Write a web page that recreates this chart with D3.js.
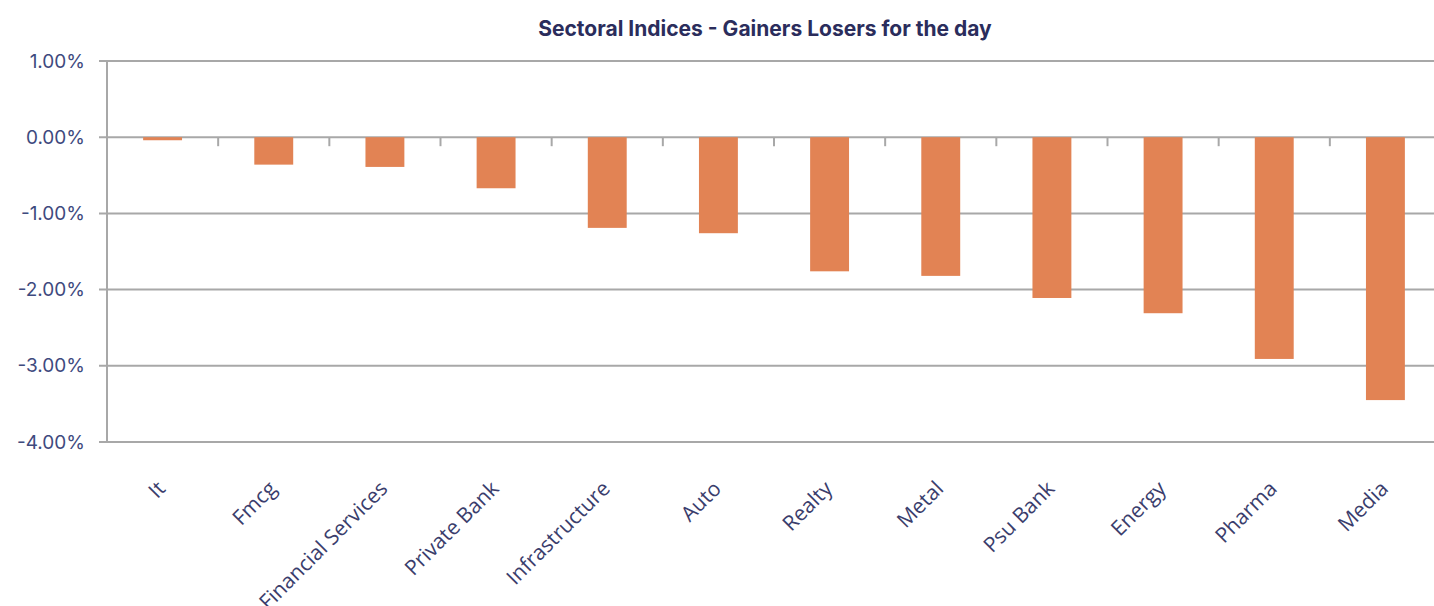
<!DOCTYPE html>
<html>
  <head>
    <meta charset="utf-8" />
    <title>Sectoral Indices</title>
    <script src="https://d3js.org/d3.v7.min.js"></script>
    <style>
      body { margin: 0; background: #ffffff; }
    </style>
  </head>
  <body>
    <svg id="chart" width="1434" height="606"></svg>
  </body>
  <script>
    // sectors and their day change (%)
    var sectors = ["It", "Fmcg", "Financial Services", "Private Bank", "Infrastructure", "Auto",
                   "Realty", "Metal", "Psu Bank", "Energy", "Pharma", "Media"];
    var changes = [-0.04, -0.36, -0.39, -0.67, -1.19, -1.26, -1.76, -1.82, -2.11, -2.31, -2.91, -3.45];
    var yTicks = [1, 0, -1, -2, -3, -4];
    var chartTitle = "Sectoral Indices - Gainers Losers for the day";

    var drawChart = function(){
      var svg = d3.select("#chart");
      var plotLeft = 107, plotRight = 1441, plotTop = 61, plotBottom = 442;

      var x = d3.scaleBand()
        .domain(sectors)
        .range([plotLeft, plotRight])
        .paddingInner(0.65)
        .paddingOuter(0.325);

      // band boundaries for tick marks
      var step = (plotRight - plotLeft) / sectors.length;

      var y = d3.scaleLinear()
        .domain([-4, 1])
        .range([plotBottom, plotTop]);

      // plain hyphen minus, like the original
      var pct = d3.formatLocale({decimal: ".", thousands: ",", grouping: [3], currency: ["", ""], minus: "-"})
        .format(".2f");

      // gridlines
      svg.append("g")
        .selectAll("line")
        .data(yTicks)
        .enter().append("line")
        .attr("x1", plotLeft - 8)
        .attr("x2", plotRight)
        .attr("y1", function(d){ return y(d); })
        .attr("y2", function(d){ return y(d); })
        .attr("stroke", "#a8a8a8")
        .attr("stroke-width", 2);

      // y axis line
      svg.append("line")
        .attr("x1", plotLeft).attr("x2", plotLeft)
        .attr("y1", y(1)).attr("y2", y(-4))
        .attr("stroke", "#a8a8a8")
        .attr("stroke-width", 2);

      // y labels
      svg.append("g")
        .selectAll("text")
        .data(yTicks)
        .enter().append("text")
        .attr("x", 85)
        .attr("y", function(d){ return y(d); })
        .attr("dy", "0.35em")
        .attr("text-anchor", "end")
        .attr("font-family", "Inter, sans-serif")
        .attr("font-size", 19)
        .attr("fill", "#3e4a7e")
        .text(function(d){ return pct(d) + "%"; });

      // category tick marks on zero line
      svg.append("g")
        .selectAll("line")
        .data(d3.range(1, sectors.length))
        .enter().append("line")
        .attr("x1", function(i){ return plotLeft + i * step; })
        .attr("x2", function(i){ return plotLeft + i * step; })
        .attr("y1", y(0))
        .attr("y2", y(0) + 9)
        .attr("stroke", "#a8a8a8")
        .attr("stroke-width", 2);

      // bars
      svg.append("g")
        .selectAll("rect")
        .data(changes)
        .enter().append("rect")
        .attr("x", function(d, i){ return x(sectors[i]); })
        .attr("width", x.bandwidth())
        .attr("y", function(d){ return y(Math.max(0, d)); })
        .attr("height", function(d){ return Math.abs(y(d) - y(0)); })
        .attr("fill", "#e28354");

      // x labels
      svg.append("g")
        .selectAll("text")
        .data(sectors)
        .enter().append("text")
        .attr("transform", function(d){
          return "translate(" + (x(d) + x.bandwidth() / 2 + 4) + ",490) rotate(-45)";
        })
        .attr("text-anchor", "end")
        .attr("font-family", "'Open Sans', sans-serif")
        .attr("font-size", 21)
        .attr("fill", "#3a3d6c")
        .text(function(d){ return d; });

      // title
      svg.append("text")
        .attr("x", 765)
        .attr("y", 36)
        .attr("text-anchor", "middle")
        .attr("font-family", "Inter, sans-serif")
        .attr("font-weight", 700)
        .attr("font-size", 21)
        .attr("fill", "#2b2d5c")
        .text(chartTitle);
    };

    drawChart();
  </script>
</html>
